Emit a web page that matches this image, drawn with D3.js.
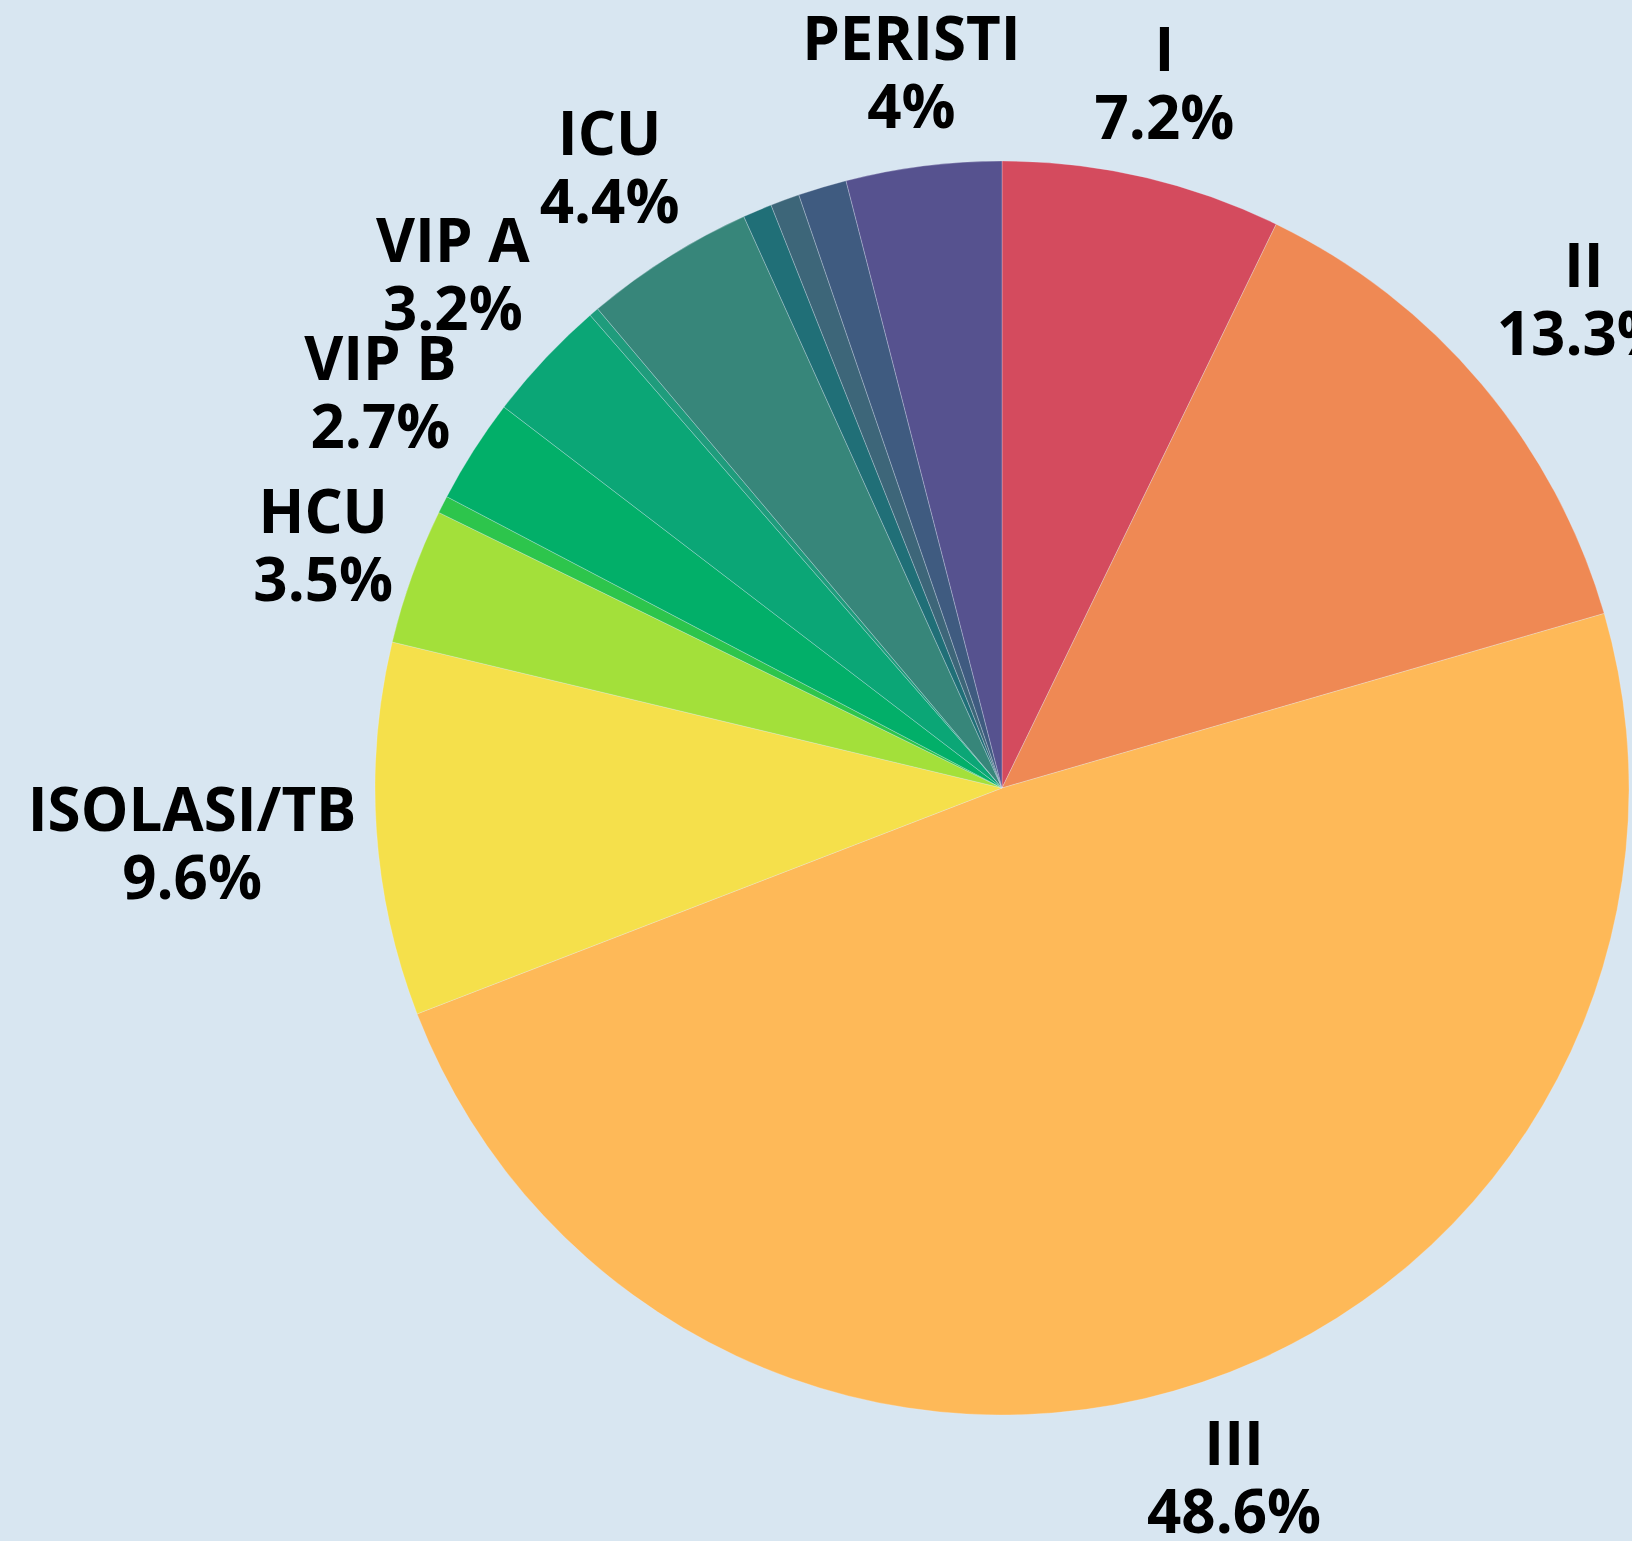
<!DOCTYPE html>
<html>
<head>
<meta charset="utf-8">
<script src="https://cdn.jsdelivr.net/npm/d3@7"></script>
<style>
  html, body { margin: 0; padding: 0; background: #d8e6f1; }
  svg { display: block; }
</style>
</head>
<body>
<svg id="chart" width="1632" height="1541"></svg>
<script>
// ---- data ----
const categories = ["I", "II", "III", "ISOLASI/TB", "HCU", "Lainnya A", "VIP B", "VIP A", "Lainnya B", "ICU", "Lainnya C", "Lainnya D", "Lainnya E", "PERISTI"];
const values     = [7.2, 13.3, 48.6, 9.6, 3.5, 0.45, 2.7, 3.2, 0.25, 4.4, 0.75, 0.75, 1.25, 4.0];
const colors     = ["#d44b5e", "#ef8954", "#feb958", "#f5e04b", "#a3e03a", "#2dc54c", "#02af69", "#0ba676", "#1f9c7c", "#37867a", "#206f77", "#3d6679", "#3f5b80", "#56528f"];
const labelThreshold = 0.02;

// ---- layout ----
const W = 1632, H = 1541;
const cx = 1002, cy = 788, R = 627;
const gap = 20;
const fontSize = 60, lineGap = 68;

const svg = d3.select("#chart");
svg.append("rect").attr("width", W).attr("height", H).attr("fill", "#d8e6f1");

const data = categories.map((c, i) => ({ name: c, value: values[i], color: colors[i] }));
const total = d3.sum(values);

const pie = d3.pie().value(d => d.value).sort(null).startAngle(0).endAngle(2 * Math.PI);
const arcs = pie(data);
const arc = d3.arc().innerRadius(0).outerRadius(R);

const g = svg.append("g").attr("transform", `translate(${cx},${cy})`);

g.selectAll("path.slice").data(arcs).join("path")
  .attr("class", "slice")
  .attr("d", arc)
  .attr("fill", d => d.data.color)
  .attr("stroke", "rgba(235,240,250,0.35)")
  .attr("stroke-width", 0.8);

function fmtPct(p) {
  let t = (p * 100).toPrecision(3);
  if (t.indexOf(".") !== -1) t = t.replace(/\.?0+$/, "");
  return t + "%";
}

const labeled = arcs.filter(d => d.data.value / total >= labelThreshold);
const lg = g.append("g");
labeled.forEach(d => {
  const mid = (d.startAngle + d.endAngle) / 2;
  const ux = Math.sin(mid), uy = -Math.cos(mid);
  const t = lg.append("text")
    .attr("text-anchor", "middle")
    .attr("font-family", "'Open Sans', sans-serif")
    .attr("font-weight", 700)
    .attr("font-size", fontSize)
    .attr("fill", "#000");
  t.append("tspan").attr("x", 0).attr("y", 0).text(d.data.name);
  t.append("tspan").attr("x", 0).attr("y", lineGap).text(fmtPct(d.data.value / total));
  const bb = t.node().getBBox();
  const bcx = bb.x + bb.width / 2, bcy = bb.y + bb.height / 2;
  // distance from box centre to its edge along the ray direction
  const tx = Math.abs(ux) > 1e-6 ? (bb.width / 2) / Math.abs(ux) : Infinity;
  const ty = Math.abs(uy) > 1e-6 ? (bb.height / 2) / Math.abs(uy) : Infinity;
  const s = R + gap + Math.min(tx, ty);
  const px = s * ux, py = s * uy;
  t.attr("transform", `translate(${px - bcx},${py - bcy})`);
});
</script>
</body>
</html>
